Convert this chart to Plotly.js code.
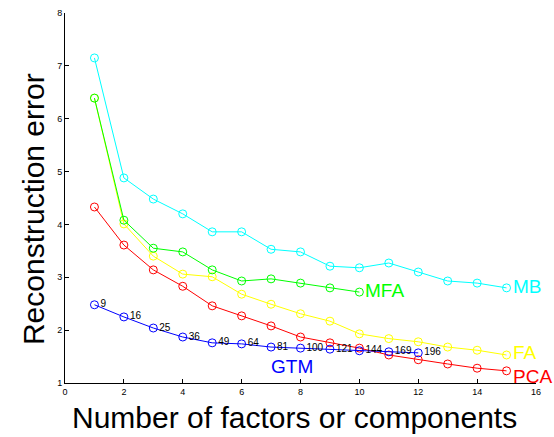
<!DOCTYPE html>
<html><head><meta charset="utf-8">
<script src="https://cdn.plot.ly/plotly-3.0.1.min.js"></script>
<style>body{margin:0;background:#fff}#c{width:554px;height:437px}</style>
</head><body><div id="c"></div>
<script>
const xMB = [1,2,3,4,5,6,7,8,9,10,11,12,13,14,15];
const yMB = [7.15,4.88,4.48,4.20,3.86,3.86,3.53,3.48,3.21,3.18,3.27,3.10,2.93,2.89,2.80];
const xMFA = [1,2,3,4,5,6,7,8,9,10];
const yMFA = [6.39,4.08,3.55,3.48,3.14,2.93,2.97,2.89,2.80,2.72];
const xFA = [1,2,3,4,5,6,7,8,9,10,11,12,13,14,15];
const yFA = [6.39,4.01,3.40,3.06,3.01,2.68,2.49,2.31,2.17,1.93,1.84,1.78,1.68,1.62,1.53];
const xPCA = [1,2,3,4,5,6,7,8,9,10,11,12,13,14,15];
const yPCA = [4.33,3.61,3.14,2.83,2.46,2.27,2.08,1.87,1.76,1.66,1.53,1.44,1.36,1.28,1.23];
const xGTM = [1,2,3,4,5,6,7,8,9,10,11,12];
const yGTM = [2.48,2.25,2.04,1.87,1.76,1.74,1.68,1.66,1.64,1.61,1.59,1.57];
const gtmLabels = ['9','16','25','36','49','64','81','100','121','144','169','196'];
const xTicks = [0,2,4,6,8,10,12,14,16];
const yTicks = [1,2,3,4,5,6,7,8];
const xTitle = 'Number of factors or components';
const yTitle = 'Reconstruction error';

const FONT = 'Liberation Sans, Arial, sans-serif';
function tr(x,y,color){
  return {x:x,y:y,type:'scatter',mode:'lines+markers',
    line:{color:color,width:1},
    marker:{symbol:'circle-open',size:8,color:color,line:{width:1,color:color}},
    hoverinfo:'skip',showlegend:false};
}
const gtm = tr(xGTM,yGTM,'#0000ff');
gtm.mode='lines+markers+text';
gtm.text=gtmLabels;
gtm.textposition='middle right';
gtm.textfont={family:FONT,size:10,color:'#000'};

const data = [tr(xFA,yFA,'#ffff00'), tr(xMFA,yMFA,'#00ff00'), tr(xMB,yMB,'#00ffff'), tr(xPCA,yPCA,'#ff0000'), gtm];

function lab(text,x,y,color,xs,ys,xa){
  return {x:x,y:y,text:text,showarrow:false,xanchor:xa||'left',yanchor:'middle',xshift:xs,yshift:ys,
    font:{family:FONT,size:19,color:color}};
}
const annotations = [
  lab('MB',xMB[xMB.length-1],yMB[yMB.length-1],'#00ffff',4,1),
  lab('MFA',xMFA[xMFA.length-1],yMFA[yMFA.length-1],'#00ff00',4,2),
  lab('FA',xFA[xFA.length-1],yFA[yFA.length-1],'#ffff00',4,2),
  lab('PCA',xPCA[xPCA.length-1],yPCA[yPCA.length-1],'#ff0000',4,-6),
  lab('GTM',7.71,1.32,'#0000ff',0,0,'center'),
  {xref:'paper',yref:'paper',x:0.488,y:-0.092,xanchor:'center',yanchor:'middle',showarrow:false,
    text:xTitle,font:{family:FONT,size:30,color:'#000'}},
  {xref:'paper',yref:'paper',x:-0.068,y:0.47,xanchor:'center',yanchor:'middle',showarrow:false,textangle:-90,
    text:yTitle,font:{family:FONT,size:30,color:'#000'}}
];

const layout = {
  width:554,height:437,
  margin:{l:65,r:18,t:13,b:54,pad:0},
  paper_bgcolor:'#fff',plot_bgcolor:'#fff',
  font:{family:FONT,size:9,color:'#000'},
  xaxis:{range:[0,16],tickvals:xTicks,ticktext:xTicks.map(String),ticks:'inside',ticklen:4,tickcolor:'#000',
    showline:true,linecolor:'#000',linewidth:1,showgrid:false,zeroline:false,mirror:false,
    tickfont:{family:FONT,size:9,color:'#000'}},
  yaxis:{range:[1,8],tickvals:yTicks,ticktext:yTicks.map(String),ticks:'inside',ticklen:4,tickcolor:'#000',
    showline:true,linecolor:'#000',linewidth:1,showgrid:false,zeroline:false,mirror:false,
    tickfont:{family:FONT,size:9,color:'#000'}},
  annotations:annotations
};
Plotly.newPlot('c',data,layout,{staticPlot:true});
</script></body></html>
